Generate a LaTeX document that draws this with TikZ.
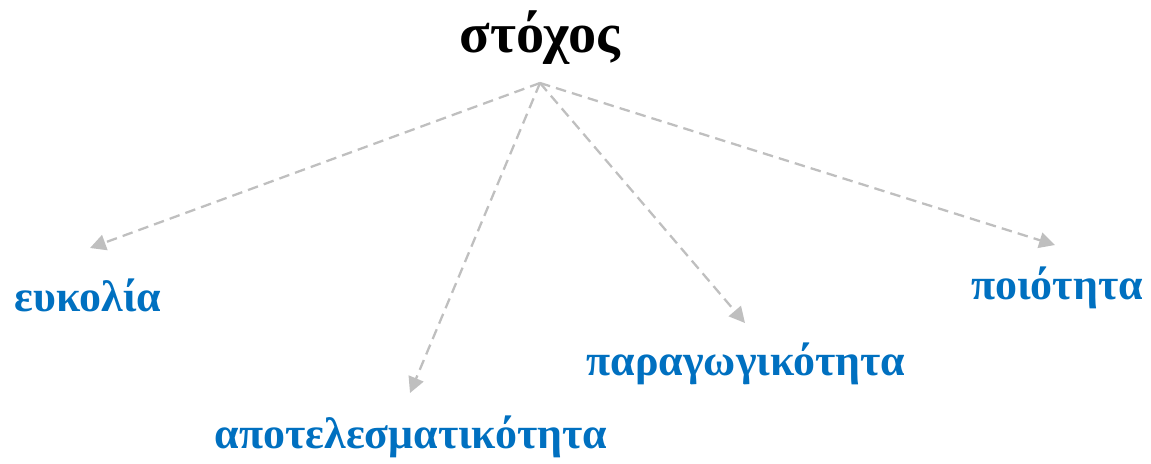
\documentclass[tikz,border=0pt]{standalone}
\usepackage{fontspec}
\setmainfont{Liberation Serif}
\usetikzlibrary{arrows.meta}
\definecolor{lblblue}{HTML}{0070C0}
\definecolor{arrgray}{HTML}{BFBFBF}

\begin{document}
\begin{tikzpicture}[x=0.02cm,y=-0.02cm]
	\tikzset{
		goal/.style={font=\bfseries\fontsize{32}{38}\selectfont, text=black, inner sep=0pt},
		aim/.style={font=\bfseries\fontsize{25}{30}\selectfont, text=lblblue, inner sep=0pt},
		link/.style={draw=arrgray, line width=1.3pt, dash pattern=on 6pt off 3.5pt, -{Triangle[length=9pt,width=9pt]}}
	}
	\useasboundingbox (0,0) rectangle (1151,463);
	\node[goal] (goal) at (540,38) {στόχος};
	\coordinate (src) at (540,83);
	\node[aim] (ease) at (88,295) {ευκολία};
	\node[aim] (effect) at (411,437) {αποτελεσματικότητα};
	\node[aim] (product) at (746,364) {παραγωγικότητα};
	\node[aim] (quality) at (1057,288) {ποιότητα};
	\coordinate (e1) at (90,248);
	\coordinate (e2) at (410,393);
	\coordinate (e3) at (745,323);
	\coordinate (e4) at (1055,245);
	\foreach \t in {e1,e2,e3,e4} \draw[link] (src) -- (\t);
\end{tikzpicture}
\end{document}
